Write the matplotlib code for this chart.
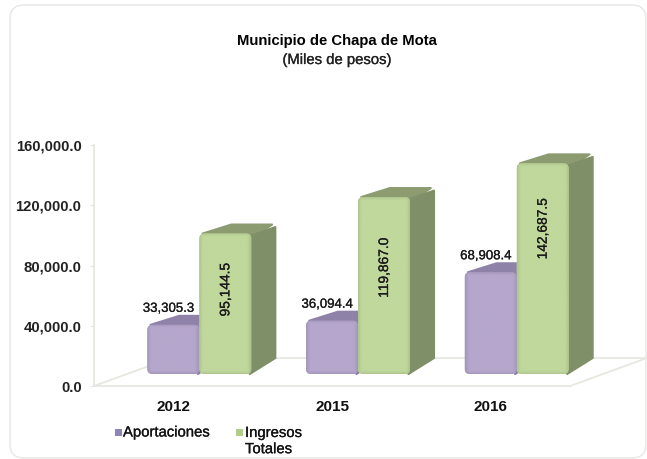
import numpy as np
import matplotlib
matplotlib.use('Agg')
import matplotlib.pyplot as plt
import matplotlib.patheffects as pe
from matplotlib.patches import FancyBboxPatch, Polygon, Rectangle
from matplotlib.colors import to_rgb

plt.rcParams['font.family'] = ['Liberation Sans', 'DejaVu Sans']

years = ['2012', '2015', '2016']
aportaciones = [33305.3, 36094.4, 68908.4]
ingresos = [95144.5, 119867.0, 142687.5]
yticks = [0, 40000, 80000, 120000, 160000]
title = 'Municipio de Chapa de Mota'
subtitle = '(Miles de pesos)'

W, H = 647, 459
LINE = '#e6e8e0'
PX_Y = 160000 / 241        # data units per pixel, y
PX_X = 3 / 476             # data units per pixel, x
ASPECT = PX_Y / PX_X
FLOOR = 12 * PX_Y
FRONT = 0.98               # front plane is a bit smaller than the wall
DX, DY = 24 * PX_X, 9 * PX_Y
DY_LOW = 16 * PX_Y         # perspective: lower edge of the side climbs more
OFF = 26 * PX_X            # bars sit right of the category centre
BAR_W = 52 * PX_X
HEAVY = [pe.withStroke(linewidth=0.2, foreground='#222222')]


def shade(c, f):
    return tuple(min(1, v * f) for v in to_rgb(c))


def bar3d(ax, x0, value, front, side, top):
    y0 = FLOOR
    h = value * FRONT
    r = 0.032
    ry = r * ASPECT
    # depth: top and side faces
    ax.add_patch(Polygon([(x0 + 0.02, y0 + h), (x0 + 0.05 + DX, y0 + h + DY),
                          (x0 + BAR_W + DX - 0.02, y0 + h + DY),
                          (x0 + BAR_W, y0 + h - ry)],
                         closed=True, fc=top, ec=top, lw=1.5, joinstyle='round',
                         clip_on=False, zorder=3))
    ax.add_patch(Polygon([(x0 + BAR_W - 0.01, y0 + h - ry / 2), (x0 + BAR_W + DX, y0 + h + DY - ry / 2),
                          (x0 + BAR_W + DX, y0 + DY_LOW), (x0 + BAR_W - 0.01, y0)],
                         closed=True, fc=side, ec=side, lw=1.5, joinstyle='round',
                         clip_on=False, zorder=3))
    # front face, rounded, lighter in the middle
    box = FancyBboxPatch((x0 + r, y0 + ry), BAR_W - 2 * r, h - 2 * ry,
                         boxstyle='round,pad=%f,rounding_size=%f' % (r, r),
                         mutation_aspect=ASPECT, fc=front, ec='none', zorder=4)
    ax.add_patch(box)
    nx, ny = 40, 120
    xx = np.minimum(np.arange(nx) + 0.5, nx - np.arange(nx) - 0.5) / 3.0
    yy = np.minimum(np.arange(ny) + 0.5, ny - np.arange(ny) - 0.5) * (h / PX_Y / ny) / 3.0
    d = np.minimum.outer(yy, xx).clip(0, 1)
    edge = np.array(shade(front, 0.90))
    mid = np.array(to_rgb(front))
    img = edge + (mid - edge) * d[..., None]
    im = ax.imshow(img, extent=(x0, x0 + BAR_W, y0, y0 + h), origin='lower',
                   aspect='auto', zorder=5, interpolation='bilinear')
    im.set_clip_path(box)


fig = plt.figure(figsize=(W / 100, H / 100), dpi=100, facecolor='white')

# rounded frame of the chart area, legend lives here too (pixel coordinates)
bg = fig.add_axes([0, 0, 1, 1])
bg.set_xlim(0, W)
bg.set_ylim(H, 0)
bg.axis('off')
bg.add_patch(FancyBboxPatch((22, 17), 612, 429, boxstyle='round,pad=12,rounding_size=14',
                            fc='white', ec='#e8e8e6', lw=1.1))

ax = fig.add_axes([94 / W, (H - 386) / H, 476 / W, 241 / H])
ax.patch.set_alpha(0)
x = np.arange(len(years))

# floor
ax.plot([-0.5, -0.5 + 77 * PX_X, 2.5 + 77 * PX_X, 2.5], [0, 28 * PX_Y, 28 * PX_Y, 0],
        color=LINE, lw=1.3, clip_on=False, zorder=1)

for i in x:
    c = i + OFF
    bar3d(ax, c - BAR_W, aportaciones[i], '#b5a6cc', '#8a7ca3', '#8f82a8')
    bar3d(ax, c, ingresos[i], '#c0d89c', '#7f8f68', '#8c9c70')
    ax.text(i - 0.03, FLOOR + aportaciones[i] * FRONT + DY + 1 * PX_Y,
            format(aportaciones[i], ',.1f'),
            ha='center', va='bottom', fontsize=9.5, color='#1a1a1a', zorder=7,
            path_effects=HEAVY)

green_label_frac = [0.60, 0.60, 0.69]
for i in x:
    ax.text(i + OFF + BAR_W / 2, FLOOR + ingresos[i] * FRONT * green_label_frac[i],
            format(ingresos[i], ',.1f'), rotation=90,
            ha='center', va='center', fontsize=9.9, color='#1a1a1a', zorder=7,
            path_effects=HEAVY)

ax.set_xlim(-0.5, 2.5)
ax.set_ylim(0, 160000)
ax.set_yticks(yticks)
ax.set_yticklabels([format(v, ',.1f') for v in yticks], fontsize=10.7, fontweight='bold', color='#222222')
ax.set_xticks(x)
ax.set_xticklabels(years, fontsize=11, fontweight='bold', color='#111111')
ax.tick_params(axis='y', length=3, color=LINE, pad=6)
ax.tick_params(axis='x', length=0, pad=10)
for s in ('top', 'right'):
    ax.spines[s].set_visible(False)
for s in ('left', 'bottom'):
    ax.spines[s].set_color(LINE)
    ax.spines[s].set_linewidth(1.3)

fig.text(337 / W, 1 - 41 / H, title, ha='center', va='center', fontsize=10.7, fontweight='bold')
fig.text(337 / W, 1 - 60 / H, subtitle, ha='center', va='center', fontsize=10.7, color='#222222',
         path_effects=HEAVY)

# legend by hand: the two-line entry hangs from its first line
bg.add_patch(Rectangle((115, 429), 7, 7, fc='#8f84b4', ec='none'))
bg.add_patch(Rectangle((236, 429), 7, 7, fc='#b3cc8a', ec='none'))
bg.text(123, 432.5, 'Aportaciones', ha='left', va='center', fontsize=10.7, color='#111111',
        path_effects=HEAVY)
bg.text(245, 426, 'Ingresos\nTotales', ha='left', va='top', fontsize=10.7, color='#111111',
        linespacing=1.2, path_effects=HEAVY)

fig.savefig('out.png', dpi=100)
